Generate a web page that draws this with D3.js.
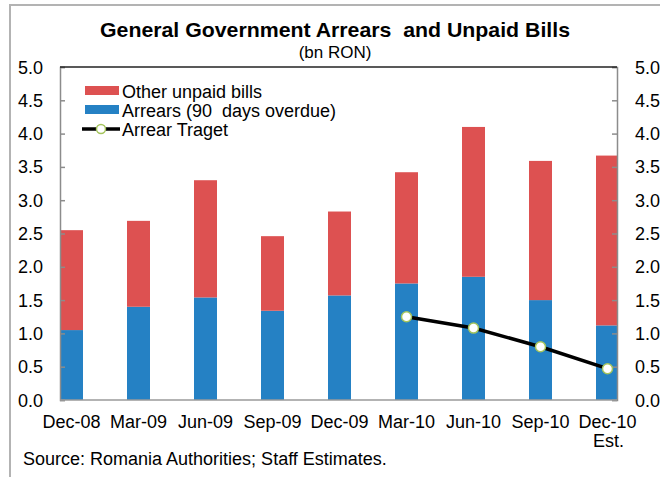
<!DOCTYPE html>
<html>
<head>
<meta charset="utf-8">
<script src="https://cdnjs.cloudflare.com/ajax/libs/d3/7.8.5/d3.min.js"></script>
<style>
  body { margin: 0; background: #fff; }
  svg text { font-family: "Liberation Sans", Arial, sans-serif; fill: #000; }
</style>
</head>
<body>
<div id="chart"></div>
<script>
// quarter labels
var categories = ["Dec-08", "Mar-09", "Jun-09", "Sep-09", "Dec-09", "Mar-10", "Jun-10", "Sep-10", "Dec-10"];
// arrears, 90 days overdue (bn RON)
var arrears = [1.05, 1.40, 1.54, 1.34, 1.57, 1.75, 1.85, 1.50, 1.12];
// other unpaid bills, stacked on top
var otherBills = [1.50, 1.29, 1.76, 1.12, 1.26, 1.67, 2.25, 2.09, 2.55];
// arrear target (only from Mar-10)
var target = [null, null, null, null, null, 1.25, 1.08, 0.80, 0.47];
var yTicks = [0, 0.5, 1, 1.5, 2, 2.5, 3, 3.5, 4, 4.5, 5];

function drawChart() {
    var cfg = {
        w: 660,
        h: 477,
        left: 60,
        right: 617,
        top: 67,
        bottom: 400
    };
    var red = "#dd5151", blue = "#2581c4";
    var fs = "18px";

    var svg = d3.select("#chart")
        .append("svg")
        .attr("width", cfg.w)
        .attr("height", cfg.h);

    // outer frame
    svg.append("rect")
        .attr("x", 10).attr("y", 5)
        .attr("width", 700).attr("height", 500)
        .attr("fill", "none")
        .attr("stroke", "#b3b3b3")
        .attr("stroke-width", 2);

    var x = d3.scalePoint()
        .domain(categories)
        .range([71.5, 607.5]);
    var barW = 23;

    var y = d3.scaleLinear()
        .domain([0, 5])
        .range([cfg.bottom, cfg.top]);

    svg.append("clipPath").attr("id", "plotclip")
        .append("rect")
        .attr("x", cfg.left).attr("y", cfg.top)
        .attr("width", cfg.right - cfg.left)
        .attr("height", cfg.bottom - cfg.top);

    var rows = categories.map(function(c, i) {
        return { cat: c, arrears: arrears[i], other: otherBills[i], target: target[i] };
    });
    var stack = d3.stack().keys(["arrears", "other"])(rows);
    var colors = { arrears: blue, other: red };

    var bars = svg.append("g").attr("clip-path", "url(#plotclip)");
    bars.selectAll("g.series")
        .data(stack)
        .enter()
        .append("g")
        .attr("fill", function(d) { return colors[d.key]; })
        .selectAll("rect")
        .data(function(d) { return d; })
        .enter()
        .append("rect")
        .attr("x", function(d) { return x(d.data.cat) - barW / 2; })
        .attr("width", barW)
        .attr("y", function(d) { return y(d[1]); })
        .attr("height", function(d) { return y(d[0]) - y(d[1]); });

    // axes
    var leftAxis = svg.append("g")
        .attr("transform", "translate(" + cfg.left + ",0)")
        .call(d3.axisRight(y).tickValues(yTicks).tickSize(5).tickFormat(""));
    var rightAxis = svg.append("g")
        .attr("transform", "translate(" + cfg.right + ",0)")
        .call(d3.axisLeft(y).tickValues(yTicks).tickSize(5).tickFormat(""));
    [leftAxis, rightAxis].forEach(function(a) {
        a.select(".domain").attr("stroke", "#8c8c8c").attr("stroke-width", 1.5);
        a.selectAll(".tick line").attr("stroke", "#8c8c8c").attr("stroke-width", 1.5);
    });

    svg.append("line")
        .attr("x1", cfg.left).attr("x2", cfg.right)
        .attr("y1", cfg.bottom).attr("y2", cfg.bottom)
        .attr("stroke", "#9a9a9a").attr("stroke-width", 1.5);
    svg.append("line")
        .attr("x1", cfg.left).attr("x2", cfg.right)
        .attr("y1", cfg.top).attr("y2", cfg.top)
        .attr("stroke", "#222").attr("stroke-width", 1.5);

    // tick labels
    svg.selectAll("text.yl")
        .data(yTicks)
        .enter()
        .append("text")
        .attr("x", 43)
        .attr("y", function(d) { return y(d) + 6.5; })
        .style("text-anchor", "end")
        .style("font-size", fs)
        .text(function(d) { return d3.format(".1f")(d); });
    svg.selectAll("text.yr")
        .data(yTicks)
        .enter()
        .append("text")
        .attr("x", 635)
        .attr("y", function(d) { return y(d) + 6.5; })
        .style("text-anchor", "start")
        .style("font-size", fs)
        .text(function(d) { return d3.format(".1f")(d); });

    svg.selectAll("text.xl")
        .data(categories)
        .enter()
        .append("text")
        .attr("x", function(d) { return x(d); })
        .attr("y", 428)
        .style("text-anchor", "middle")
        .style("font-size", fs)
        .text(function(d) { return d; });
    svg.append("text")
        .attr("x", x("Dec-10") + 1)
        .attr("y", 447)
        .style("text-anchor", "middle")
        .style("font-size", fs)
        .text("Est.");

    // target line
    var line = d3.line()
        .defined(function(d) { return d.target != null; })
        .x(function(d) { return x(d.cat); })
        .y(function(d) { return y(d.target); });
    svg.append("path")
        .datum(rows)
        .attr("d", line)
        .attr("fill", "none")
        .attr("stroke", "#000")
        .attr("stroke-width", 3.5);
    svg.selectAll("circle.pt")
        .data(rows.filter(function(d) { return d.target != null; }))
        .enter()
        .append("circle")
        .attr("cx", function(d) { return x(d.cat); })
        .attr("cy", function(d) { return y(d.target); })
        .attr("r", 5)
        .attr("fill", "#fff")
        .attr("stroke", "#a4c45c")
        .attr("stroke-width", 1.5);

    // legend
    var legend = svg.append("g").attr("class", "legend");
    var items = [
        { name: "Other unpaid bills", color: red, type: "rect" },
        { name: "Arrears (90  days overdue)", color: blue, type: "rect" },
        { name: "Arrear Traget", color: "#000", type: "line" }
    ];
    items.forEach(function(it, i) {
        var cy = 91 + i * 19;
        if (it.type == "rect") {
            legend.append("rect")
                .attr("x", 85).attr("y", cy - 5)
                .attr("width", 34).attr("height", 9)
                .attr("fill", it.color);
        } else {
            legend.append("line")
                .attr("x1", 82).attr("x2", 120)
                .attr("y1", cy).attr("y2", cy)
                .attr("stroke", "#000").attr("stroke-width", 3.5);
            legend.append("circle")
                .attr("cx", 101).attr("cy", cy).attr("r", 4.5)
                .attr("fill", "#fff")
                .attr("stroke", "#a4c45c").attr("stroke-width", 1.5);
        }
        legend.append("text")
            .attr("x", 122)
            .attr("y", cy + 6.5)
            .style("font-size", fs)
            .style("white-space", "pre")
            .text(it.name);
    });

    // titles
    svg.append("text")
        .attr("x", 335)
        .attr("y", 37)
        .attr("textLength", 470)
        .attr("lengthAdjust", "spacingAndGlyphs")
        .style("text-anchor", "middle")
        .style("font-size", "21px")
        .style("font-weight", "bold")
        .style("white-space", "pre")
        .text("General Government Arrears  and Unpaid Bills");
    svg.append("text")
        .attr("x", 335)
        .attr("y", 58)
        .style("text-anchor", "middle")
        .style("font-size", "17px")
        .text("(bn RON)");

    svg.append("text")
        .attr("x", 23)
        .attr("y", 465)
        .style("font-size", fs)
        .text("Source: Romania Authorities; Staff Estimates.");
}

drawChart();
</script>
</body>
</html>
